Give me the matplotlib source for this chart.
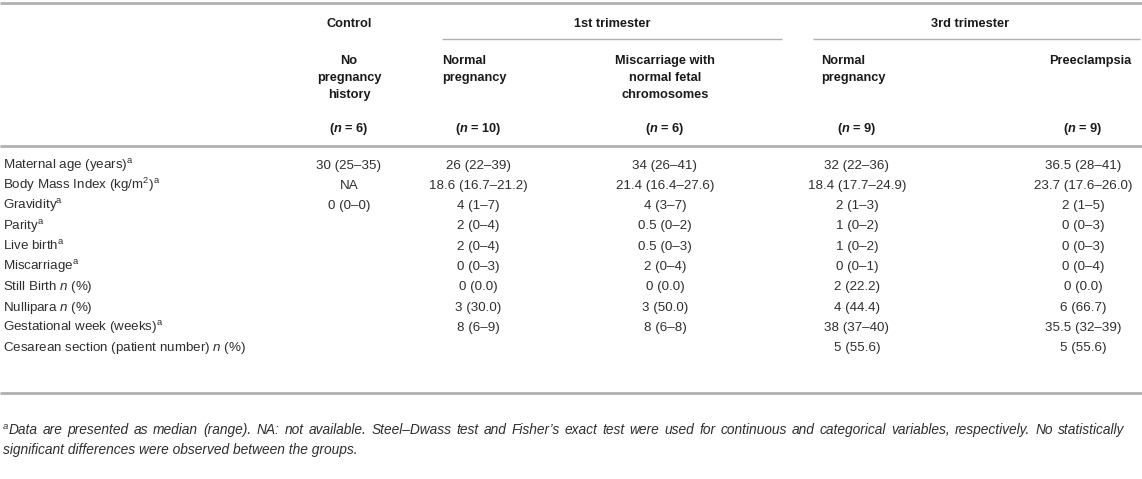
import matplotlib
matplotlib.use("Agg")
import matplotlib.pyplot as plt

plt.rcParams['font.family'] = ['Liberation Sans', 'DejaVu Sans']
plt.rcParams['mathtext.fontset'] = 'custom'
plt.rcParams['mathtext.rm'] = 'Liberation Sans'
plt.rcParams['mathtext.it'] = 'Liberation Sans:italic'
plt.rcParams['mathtext.bf'] = 'Liberation Sans:bold'
plt.rcParams['mathtext.bfit'] = 'Liberation Sans:bold:italic'

# table content
groups = ["Control", "1st trimester", "3rd trimester"]
subheads = ["No\npregnancy\nhistory", "Normal\npregnancy",
            "Miscarriage with\nnormal fetal\nchromosomes", "Normal\npregnancy",
            "Preeclampsia"]
n_values = [6, 10, 6, 9, 9]

row_labels = [
    "Maternal age (years)$^{\\mathrm{a}}$",
    "Body Mass Index (kg/m$^{\\mathrm{2}}$)$^{\\mathrm{a}}$",
    "Gravidity$^{\\mathrm{a}}$",
    "Parity$^{\\mathrm{a}}$",
    "Live birth$^{\\mathrm{a}}$",
    "Miscarriage$^{\\mathrm{a}}$",
    "Still Birth $\\mathit{n}$ (%)",
    "Nullipara $\\mathit{n}$ (%)",
    "Gestational week (weeks)$^{\\mathrm{a}}$",
    "Cesarean section (patient number) $\\mathit{n}$ (%)",
]
control = ["30 (25–35)", "NA", "0 (0–0)", "", "", "", "", "", "", ""]
first_normal = ["26 (22–39)", "18.6 (16.7–21.2)", "4 (1–7)", "2 (0–4)", "2 (0–4)",
                "0 (0–3)", "0 (0.0)", "3 (30.0)", "8 (6–9)", ""]
first_miscarriage = ["34 (26–41)", "21.4 (16.4–27.6)", "4 (3–7)", "0.5 (0–2)", "0.5 (0–3)",
                     "2 (0–4)", "0 (0.0)", "3 (50.0)", "8 (6–8)", ""]
third_normal = ["32 (22–36)", "18.4 (17.7–24.9)", "2 (1–3)", "1 (0–2)", "1 (0–2)",
                "0 (0–1)", "2 (22.2)", "4 (44.4)", "38 (37–40)", "5 (55.6)"]
third_pe = ["36.5 (28–41)", "23.7 (17.6–26.0)", "2 (1–5)", "0 (0–3)", "0 (0–3)",
            "0 (0–4)", "0 (0.0)", "6 (66.7)", "35.5 (32–39)", "5 (55.6)"]

footnote_mark = "a"
footnote_1 = ("Data are presented as median (range). NA: not available. "
              "Steel–Dwass test and Fisher’s exact test were used for continuous and categorical "
              "variables, respectively. No statistically")
footnote_2 = "significant differences were observed between the groups."

W, H = 1142, 479
fig = plt.figure(figsize=(W / 100, H / 100), dpi=100)
ax = fig.add_axes([0, 0, 1, 1])
ax.set_xlim(0, W)
ax.set_ylim(H, 0)
ax.axis('off')

fs = 9.2
fs_body = 9.6
fs_note = 9.9
txt = '#2e2e2e'
head = '#1a1a1a'
rule = '#b0b0b0'

col_x = [349, 478, 665, 857, 1083]
group_x = [349, 612, 970]
group_lines = [(442, 782), (813, 1140)]

# rules
ax.hlines([3, 146, 393], 0, W, color=rule, lw=2.0)
for x0, x1 in group_lines:
    ax.hlines(39, x0, x1, color=rule, lw=1.0)

# header
for x, g in zip(group_x, groups):
    ax.text(x, 27, g, ha='center', va='baseline', fontsize=fs, fontweight='bold', color=head)

for i, (x, s) in enumerate(zip(col_x, subheads)):
    if s.startswith("Normal"):
        ax.text(x - 36, 55, s, ha='left', va='top', fontsize=fs, fontweight='bold',
                color=head, linespacing=1.55)
    else:
        ax.text(x + (7 if i == 4 else 0), 55, s, ha='center', va='top', fontsize=fs,
                fontweight='bold', color=head, linespacing=1.55, multialignment='center')
    ax.text(x, 132, "($\\mathbfit{n}$ = %d)" % n_values[i], ha='center', va='baseline',
            fontsize=fs, fontweight='bold', color=head)

# body
row_y0, row_dy = 164, 20.3
columns = [control, first_normal, first_miscarriage, third_normal, third_pe]
for r, label in enumerate(row_labels):
    yb = row_y0 + r * row_dy + 4.5
    ax.text(3, yb, label, ha='left', va='baseline', fontsize=fs_body, color=txt)
    for x, col in zip(col_x, columns):
        if col[r]:
            ax.text(x, yb, col[r], ha='center', va='baseline', fontsize=fs_body, color=txt)

# footnote, first line spread to the table width
renderer = fig.canvas.get_renderer()
mark = ax.text(3, 429, footnote_mark, ha='left', va='baseline', fontsize=6.8,
               style='italic', color=txt)
left = 3 + mark.get_window_extent(renderer).width + 0.5
words = footnote_1.split(" ")
objs = [ax.text(0, 434, w, ha='left', va='baseline', fontsize=fs_note, style='italic',
                color=txt) for w in words]
widths = [o.get_window_extent(renderer).width for o in objs]
right = 1124
gap = (right - left - sum(widths)) / (len(words) - 1)
xpos = left
for o, w in zip(objs, widths):
    o.set_x(xpos)
    xpos += w + gap
ax.text(3, 454, footnote_2, ha='left', va='baseline', fontsize=fs_note, style='italic',
        color=txt)

fig.savefig("out.png", dpi=100)
